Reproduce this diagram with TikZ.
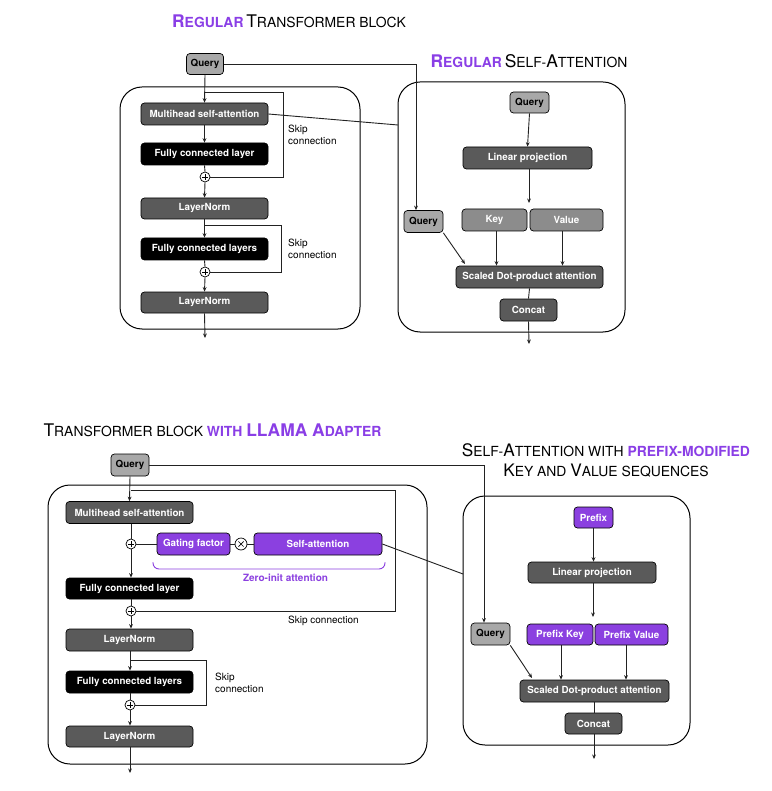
\documentclass[tikz,border=0pt]{standalone}
\usepackage{fontspec}
\setmainfont{TeX Gyre Heros}
\usetikzlibrary{arrows.meta}
\definecolor{purp}{HTML}{8B40E0}
\definecolor{tpurp}{HTML}{8A3EE6}
\definecolor{dgray}{HTML}{5A5A5A}
\definecolor{mgray}{HTML}{8C8C8C}
\definecolor{lgray}{HTML}{A8A8A8}
\definecolor{lnk}{HTML}{222222}
\newcommand\BigC{\fontsize{17.4}{20}\selectfont}
\newcommand\SmC{\fontsize{13.9}{16}\selectfont}
\newcommand\BigD{\fontsize{17.2}{20}\selectfont}
\newcommand\SmD{\fontsize{13.9}{16}\selectfont}
\begin{document}
\begin{tikzpicture}[x=1pt,y=-1pt,
  blk/.style={draw=black, line width=0.7pt, rounded corners=3.5pt, text=white,
    font=\bfseries\fontsize{9.8}{11}\selectfont, inner sep=0pt, minimum height=22pt},
  darkb/.style={blk, fill=dgray},
  blackb/.style={blk, fill=black},
  midb/.style={blk, fill=mgray},
  qb/.style={blk, fill=lgray, text=black},
  purpb/.style={blk, fill=purp},
  outer/.style={draw=black, line width=1pt, rounded corners=22pt, inner sep=0pt},
  conn/.style={draw=lnk, line width=0.9pt},
  arr/.style={conn, -{Stealth[length=4.5pt,width=3.8pt]}},
  plusc/.style={circle, draw=black, fill=white, line width=0.7pt, minimum size=10pt, inner sep=0pt,
    path picture={\draw[line width=0.7pt]
      ([xshift=-3pt]path picture bounding box.center) -- ([xshift=3pt]path picture bounding box.center)
      ([yshift=-3pt]path picture bounding box.center) -- ([yshift=3pt]path picture bounding box.center);}},
  timesc/.style={circle, draw=black, fill=white, line width=0.7pt, minimum size=12pt, inner sep=0pt,
    path picture={\draw[line width=0.7pt]
      ([xshift=-2.6pt,yshift=-2.6pt]path picture bounding box.center) -- ([xshift=2.6pt,yshift=2.6pt]path picture bounding box.center)
      ([xshift=-2.6pt,yshift=2.6pt]path picture bounding box.center) -- ([xshift=2.6pt,yshift=-2.6pt]path picture bounding box.center);}},
  lbl/.style={font=\fontsize{10}{12}\selectfont, inner sep=0pt, align=left, anchor=west},
  ttl/.style={inner sep=0pt, align=center}
]
\useasboundingbox (0,0) rectangle (771,791);
\fill[white] (0,0) rectangle (771,791);

% ================= outer boxes =================
\node[outer, minimum width=240pt, minimum height=242pt] (B1) at (240,208) {};
\node[outer, minimum width=227pt, minimum height=250pt] (B2) at (511.5,207) {};
\node[outer, minimum width=379pt, minimum height=279pt] (B3) at (237.5,624.5) {};
\node[outer, minimum width=227pt, minimum height=249pt] (B4) at (576.5,620.5) {};

% ================= titles =================
\node[ttl] (T1) at (289,21) {{\color{tpurp}\bfseries\BigC R\SmC EGULAR} \BigC T\SmC RANSFORMER BLOCK};
\node[ttl] (T2) at (529,61) {{\color{tpurp}\bfseries\BigC R\SmC EGULAR} \BigC S\SmC ELF-\BigC A\SmC TTENTION};
\node[ttl] (T3) at (212.5,430) {\BigC T\SmC RANSFORMER BLOCK {\color{tpurp}\bfseries WITH \BigC LLAMA A\SmC DAPTER}};
\node[ttl] (T4a) at (606,450) {\BigD S\SmD ELF-\BigD A\SmD TTENTION WITH {\color{tpurp}\bfseries PREFIX-MODIFIED}};
\node[ttl] (T4b) at (606,471) {\BigD K\SmD EY AND \BigD V\SmD ALUE SEQUENCES};

% ================= top-left: regular transformer block =================
\node[qb, minimum width=37pt, minimum height=21pt] (q1) at (205,64) {Query};
\node[darkb, minimum width=127pt] (mha1) at (204.5,114) {Multihead self-attention};
\node[blackb, minimum width=127pt] (fc1) at (204.5,154) {Fully connected layer};
\node[plusc] (p1) at (205,177) {};
\node[darkb, minimum width=127pt, minimum height=21pt] (ln1) at (204.5,208.5) {LayerNorm};
\node[blackb, minimum width=127pt] (fcs1) at (204.5,249) {Fully connected layers};
\node[plusc] (p2) at (205,272) {};
\node[darkb, minimum width=127pt, minimum height=21pt] (ln2) at (204.5,302.5) {LayerNorm};
\coordinate (s1) at (205,92);
\coordinate (s1r) at (283,92);
\coordinate (s2) at (205,225);
\coordinate (s2r) at (281,225);
\coordinate (o1) at (205,338);
\node[lbl] (k1) at (288,134.5) {Skip\\connection};
\node[lbl] (k2) at (288,249) {Skip\\connection};

\draw[arr] (q1.south) -- (mha1.north);
\draw[arr] (mha1.south) -- (fc1.north);
\draw[conn] (fc1.south) -- (p1.north);
\draw[arr] (p1.south) -- (ln1.north);
\draw[arr] (ln1.south) -- (fcs1.north);
\draw[conn] (fcs1.south) -- (p2.north);
\draw[arr] (p2.south) -- (ln2.north);
\draw[arr] (ln2.south) -- (o1);
\draw[conn] (s1) -- (s1r) |- (p1.east);
\draw[conn] (s2) -- (s2r) |- (p2.east);

% ================= top-right: regular self-attention =================
\node[qb, minimum width=39pt, minimum height=21pt] (q2) at (529.5,102.5) {Query};
\node[darkb, minimum width=129pt] (lp1) at (527.5,158) {Linear projection};
\node[midb, minimum width=65pt] (key1) at (494.5,220) {Key};
\node[midb, minimum width=73pt] (val1) at (566.5,220) {Value};
\node[qb, minimum width=39pt] (q3) at (423.5,221.5) {Query};
\node[darkb, minimum width=147pt] (sdp1) at (529.5,277) {Scaled Dot-product attention};
\node[darkb, minimum width=57pt] (cc1) at (528.5,310) {Concat};
\coordinate (a1) at (529,203);
\coordinate (o2) at (529,344);
\coordinate (e2) at (398,125);
\coordinate (qd1) at (465,264);

\draw[arr] (q2.south) -- (lp1.north);
\draw[arr] (lp1.south -| a1) -- (a1);
\draw[arr] ([xshift=2pt]key1.south) -- ([xshift=2pt]key1.south |- sdp1.north);
\draw[arr] ([xshift=-4pt]val1.south) -- ([xshift=-4pt]val1.south |- sdp1.north);
\draw[arr] (q3.south east) -- (qd1);
\draw[conn] (sdp1.south) -- (cc1.north);
\draw[arr] (cc1.south) -- (o2);
\draw[arr] (q1.east) -| ([xshift=-7.5pt]q3.north);
\draw[conn] (mha1.east) -- (e2);

% ================= bottom-left: LLaMA adapter block =================
\node[qb, minimum width=38pt] (q4) at (130,465) {Query};
\node[darkb, minimum width=127pt] (mha2) at (129.5,512.5) {Multihead self-attention};
\node[plusc] (p3) at (131,544) {};
\node[purpb, minimum width=73pt] (gf) at (193.5,544) {Gating factor};
\node[timesc] (x1) at (241,544) {};
\node[purpb, minimum width=128pt] (sa) at (318,544) {Self-attention};
\node[inner sep=0pt, text=purp, font=\bfseries\fontsize{10}{12}\selectfont] (zi) at (285.5,578) {Zero-init attention};
\node[blackb, minimum width=127pt, minimum height=21pt] (fc2) at (129.5,588.5) {Fully connected layer};
\node[plusc] (p4) at (131,611) {};
\node[darkb, minimum width=127pt] (ln3) at (129.5,640) {LayerNorm};
\node[blackb, minimum width=127pt] (fcs2) at (129.5,682) {Fully connected layers};
\node[plusc] (p5) at (130,705) {};
\node[darkb, minimum width=127pt, minimum height=21pt] (ln4) at (129.5,736.5) {LayerNorm};
\coordinate (s3) at (131,490);
\coordinate (s3r) at (395,490);
\coordinate (s4) at (130,660);
\coordinate (s4r) at (206,660);
\coordinate (o3) at (130,773);
\coordinate (e4) at (463,574);
\node[lbl] (k3) at (288,621) {Skip connection};
\node[lbl] (k4) at (215,683) {Skip\\connection};

% brace under zero-init attention
\coordinate (br1) at (153,562);
\coordinate (br2) at (385,562);
\draw[purp, line width=0.9pt, rounded corners=6pt] (br1) -- (153,569) -- (385,569) -- (br2);

\draw[arr] (q4.south) -- (mha2.north);
\draw[conn] (mha2.south -| p3) -- (p3.north);
\draw[arr] (p3.south) -- (fc2.north -| p3);
\draw[conn] (p3.east) -- (gf.west);
\draw[conn] (gf.east) -- (x1.west);
\draw[conn] (x1.east) -- (sa.west);
\draw[conn] (fc2.south -| p4) -- (p4.north);
\draw[arr] (p4.south) -- (ln3.north -| p4);
\draw[arr] (ln3.south -| p5) -- (fcs2.north -| p5);
\draw[conn] (fcs2.south -| p5) -- (p5.north);
\draw[arr] (p5.south) -- (ln4.north -| p5);
\draw[arr] (ln4.south -| o3) -- (o3);
\draw[conn] (s3) -- (s3r) |- (p4.east);
\draw[conn] (s4) -- (s4r) |- (p5.east);
\draw[conn] (sa.east) -- (e4);

% ================= bottom-right: prefix-modified self-attention =================
\node[purpb, minimum width=39pt, minimum height=21pt] (pf) at (593.5,517.5) {Prefix};
\node[darkb, minimum width=128pt, minimum height=21pt] (lp2) at (592,572.5) {Linear projection};
\node[purpb, minimum width=66pt, minimum height=21pt] (pk) at (560,634.5) {Prefix Key};
\node[purpb, minimum width=73pt, minimum height=21pt] (pv) at (631.5,634.5) {Prefix Value};
\node[qb, minimum width=39pt] (q5) at (490.5,634) {Query};
\node[darkb, minimum width=149pt] (sdp2) at (594.5,691) {Scaled Dot-product attention};
\node[darkb, minimum width=57pt, minimum height=21pt] (cc2) at (593.5,723.5) {Concat};
\coordinate (a2) at (593,617);
\coordinate (o4) at (594,759);
\coordinate (qd2) at (532,678);

\draw[arr] (pf.south) -- (lp2.north -| pf);
\draw[arr] (lp2.south -| a2) -- (a2);
\draw[arr] ([xshift=1pt]pk.south) -- ([xshift=1pt]pk.south |- sdp2.north);
\draw[arr] ([xshift=-5.5pt]pv.south) -- ([xshift=-5.5pt]pv.south |- sdp2.north);
\draw[arr] (q5.south east) -- (qd2);
\draw[conn] (sdp2.south) -- (cc2.north -| sdp2);
\draw[arr] (cc2.south -| o4) -- (o4);
\draw[arr] (q4.east) -| ([xshift=-6.5pt]q5.north);
\end{tikzpicture}
\end{document}
